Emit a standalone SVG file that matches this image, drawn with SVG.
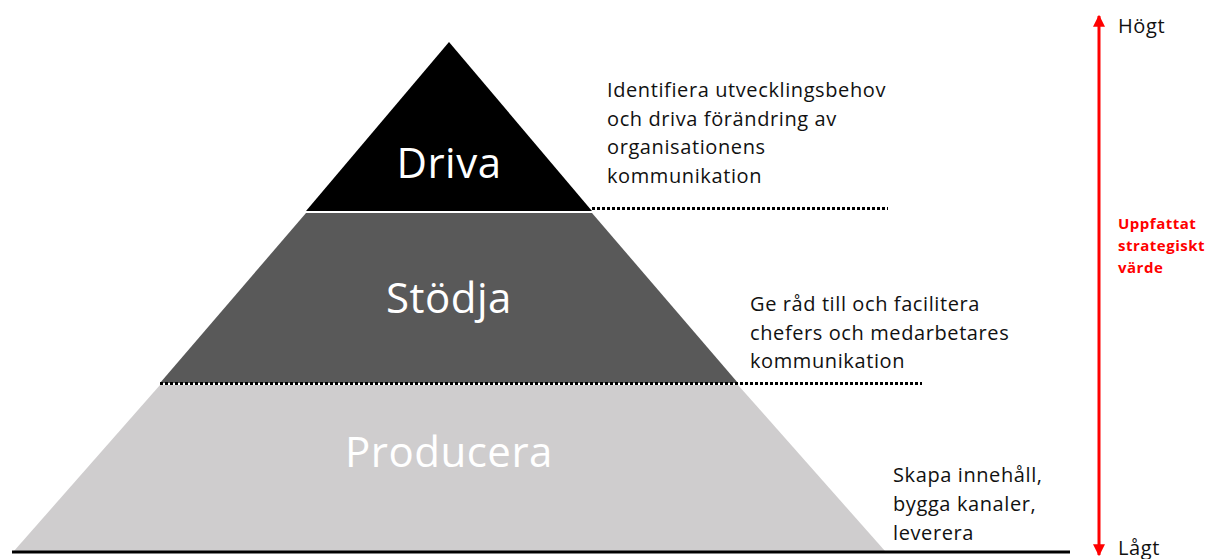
<svg xmlns="http://www.w3.org/2000/svg" width="1208" height="559" viewBox="0 0 1208 559">
<defs>
<style>
.t{font-family:"Open Sans","Liberation Sans",sans-serif;font-size:20px;letter-spacing:0.6px;fill:#111}
.big{font-family:"Open Sans","Liberation Sans",sans-serif;font-size:42px;letter-spacing:0.5px;fill:#fff;text-anchor:middle}
.red{font-family:"Open Sans","Liberation Sans",sans-serif;font-size:15px;letter-spacing:0.5px;font-weight:bold;fill:#ff0000}
.dot{stroke:#000;stroke-width:3;stroke-dasharray:3 2;fill:none}
</style>
<marker id="ah" viewBox="0 0 10 10" refX="9" refY="5" markerWidth="4" markerHeight="4" orient="auto-start-reverse" markerUnits="strokeWidth">
<path d="M0,0 L10,5 L0,10 Z" fill="#ff0000"/>
</marker>
</defs>
<rect width="1208" height="559" fill="#fff"/>
<g id="level-producera">
<polygon points="160,385 738,385 885,551 14,551" fill="#cfcdce"/>
<text class="big" x="449" y="467">Producera</text>
</g>
<g id="level-stodja">
<polygon points="306,213 592,213 738,383 160,383" fill="#595959"/>
<text class="big" x="449" y="313">Stödja</text>
</g>
<g id="level-driva">
<polygon points="449,42 592,211 306,211" fill="#000"/>
<text class="big" x="449" y="178">Driva</text>
</g>
<g id="connectors">
<line class="dot" x1="592" y1="208.5" x2="888" y2="208.5"/>
<line class="dot" x1="160" y1="383.5" x2="922" y2="383.5"/>
<line x1="12" y1="552" x2="1070" y2="552" stroke="#000" stroke-width="3"/>
<line x1="1099" y1="16" x2="1099" y2="555" stroke="#ff0000" stroke-width="3" marker-start="url(#ah)" marker-end="url(#ah)"/>
</g>
<g id="label-driva">
<text class="t" x="607" y="97">Identifiera utvecklingsbehov</text>
<text class="t" x="607" y="126">och driva förändring av</text>
<text class="t" x="607" y="154">organisationens</text>
<text class="t" x="607" y="183">kommunikation</text>
</g>
<g id="label-stodja">
<text class="t" x="750" y="311">Ge råd till och facilitera</text>
<text class="t" x="750" y="340">chefers och medarbetares</text>
<text class="t" x="750" y="368">kommunikation</text>
</g>
<g id="label-producera">
<text class="t" x="893" y="482">Skapa innehåll,</text>
<text class="t" x="893" y="511">bygga kanaler,</text>
<text class="t" x="893" y="540">leverera</text>
</g>
<g id="axis-labels">
<text class="t" x="1118" y="33">Högt</text>
<text class="t" x="1118" y="555">Lågt</text>
<text class="red" x="1118" y="229">Uppfattat</text>
<text class="red" x="1118" y="251">strategiskt</text>
<text class="red" x="1118" y="273">värde</text>
</g>
</svg>
